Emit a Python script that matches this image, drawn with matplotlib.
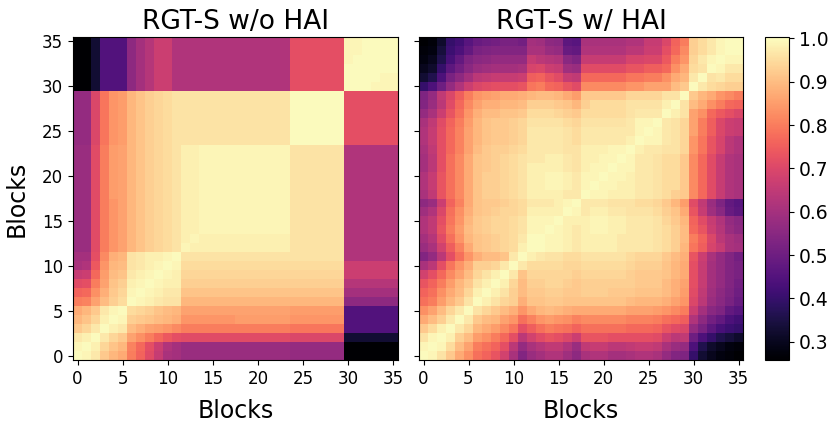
import numpy as np
import matplotlib
matplotlib.use("Agg")
import matplotlib.pyplot as plt

# ---------------- data (similarity, in percent; lower triangle of symmetric matrices) ----------------
titles = ["RGT-S w/o HAI", "RGT-S w/ HAI"]
tick_positions = [0, 5, 10, 15, 20, 25, 30, 35]
cbar_ticks = [0.3, 0.4, 0.5, 0.6, 0.7, 0.8, 0.9, 1.0]

A_lower = [
    [100],
    [99, 100],
    [97, 98, 100],
    [92, 94, 97, 100],
    [89, 91, 94, 98, 100],
    [87, 89, 92, 97, 99, 100],
    [80, 81, 86, 90, 93, 95, 100],
    [76, 77, 83, 88, 92, 94, 99, 100],
    [71, 72, 80, 86, 91, 93, 98, 99, 100],
    [66, 67, 77, 85, 90, 91, 97, 98, 99, 100],
    [61, 62, 74, 84, 89, 90, 96, 97, 98, 99, 100],
    [60, 60, 72, 82, 88, 89, 96, 97, 98, 98, 99, 100],
    [58, 58, 71, 80, 84, 86, 89, 91, 93, 94, 95, 96, 99],
    [58, 58, 71, 80, 84, 86, 89, 91, 93, 94, 95, 96, 98, 99],
    [58, 58, 71, 80, 84, 86, 89, 91, 93, 94, 95, 96, 98, 98, 99],
    [58, 58, 71, 80, 84, 86, 89, 91, 93, 94, 95, 96, 98, 98, 99, 99],
    [58, 58, 71, 80, 84, 86, 89, 91, 93, 94, 95, 96, 98, 98, 99, 99, 99],
    [58, 58, 71, 80, 84, 86, 89, 91, 93, 94, 95, 96, 98, 98, 99, 99, 99, 99],
    [58, 58, 71, 80, 85, 86, 89, 91, 93, 94, 95, 96, 98, 98, 99, 99, 99, 99, 99],
    [58, 58, 71, 80, 85, 86, 89, 91, 93, 94, 95, 96, 98, 98, 99, 99, 99, 99, 99, 99],
    [58, 58, 71, 80, 85, 86, 89, 91, 93, 94, 95, 96, 98, 98, 99, 99, 99, 99, 99, 99, 99],
    [58, 58, 71, 80, 85, 86, 89, 91, 93, 94, 95, 96, 98, 98, 99, 99, 99, 99, 99, 99, 99, 99],
    [58, 58, 71, 80, 85, 86, 89, 91, 93, 94, 95, 96, 98, 98, 99, 99, 99, 99, 99, 99, 99, 99, 99],
    [58, 58, 71, 80, 85, 86, 89, 91, 93, 94, 95, 96, 98, 98, 99, 99, 99, 99, 99, 99, 99, 99, 99, 99],
    [57, 57, 70, 79, 84, 85, 89, 91, 93, 94, 95, 96, 96, 96, 96, 96, 96, 96, 96, 96, 96, 96, 96, 96, 100],
    [57, 57, 70, 79, 84, 85, 89, 91, 93, 94, 95, 96, 96, 96, 96, 96, 96, 96, 96, 96, 96, 96, 96, 96, 100, 100],
    [57, 57, 70, 79, 84, 85, 89, 91, 93, 94, 95, 96, 96, 96, 96, 96, 96, 96, 96, 96, 96, 96, 96, 96, 100, 100, 100],
    [57, 57, 70, 79, 84, 85, 89, 91, 93, 94, 95, 96, 96, 96, 96, 96, 96, 96, 96, 96, 96, 96, 96, 96, 100, 100, 100, 100],
    [57, 57, 70, 79, 84, 85, 89, 91, 93, 94, 95, 96, 96, 96, 96, 96, 96, 96, 96, 96, 96, 96, 96, 96, 100, 100, 100, 100, 100],
    [57, 57, 70, 79, 84, 85, 89, 91, 93, 94, 95, 96, 96, 96, 96, 96, 96, 96, 96, 96, 96, 96, 96, 96, 100, 100, 100, 100, 100, 100],
    [26, 26, 33, 45, 45, 45, 56, 60, 63, 67, 67, 62, 62, 62, 62, 62, 62, 62, 62, 62, 62, 62, 62, 62, 72, 72, 72, 72, 72, 72, 100],
    [26, 26, 33, 45, 45, 45, 56, 60, 63, 67, 67, 62, 62, 62, 62, 62, 62, 62, 62, 62, 62, 62, 62, 62, 72, 72, 72, 72, 72, 72, 100, 100],
    [26, 26, 33, 45, 45, 45, 56, 60, 63, 67, 67, 62, 62, 62, 62, 62, 62, 62, 62, 62, 62, 62, 62, 62, 72, 72, 72, 72, 72, 72, 100, 100, 100],
    [26, 26, 33, 45, 45, 45, 56, 60, 63, 67, 67, 62, 62, 62, 62, 62, 62, 62, 62, 62, 62, 62, 62, 62, 72, 72, 72, 72, 72, 72, 99, 100, 100, 100],
    [26, 26, 33, 45, 45, 45, 56, 60, 63, 67, 67, 62, 62, 62, 62, 62, 62, 62, 62, 62, 62, 62, 62, 62, 72, 72, 72, 72, 72, 72, 99, 99, 100, 100, 100],
    [26, 26, 33, 45, 45, 45, 56, 60, 63, 67, 67, 62, 62, 62, 62, 62, 62, 62, 62, 62, 62, 62, 62, 62, 72, 72, 72, 72, 72, 72, 99, 99, 100, 100, 100, 100],
]

B_lower = [
    [100],
    [99, 100],
    [96, 99, 100],
    [92, 95, 98, 100],
    [87, 90, 93, 97, 100],
    [83, 86, 90, 94, 97, 100],
    [78, 80, 85, 89, 92, 96, 100],
    [76, 78, 83, 87, 90, 94, 98, 100],
    [73, 76, 80, 85, 89, 92, 96, 98, 100],
    [68, 72, 77, 82, 86, 90, 94, 96, 98, 100],
    [61, 64, 72, 79, 84, 88, 93, 93, 94, 97, 100],
    [54, 57, 64, 72, 78, 84, 88, 90, 90, 91, 97, 100],
    [58, 61, 68, 75, 81, 87, 91, 92, 93, 94, 95, 98, 100],
    [60, 63, 71, 78, 84, 89, 91, 92, 93, 94, 95, 97, 100, 100],
    [62, 65, 73, 80, 85, 90, 92, 93, 94, 94, 95, 96, 99, 99, 100],
    [62, 65, 72, 79, 84, 89, 92, 93, 94, 94, 95, 96, 99, 99, 99, 100],
    [59, 62, 70, 78, 83, 88, 91, 92, 93, 94, 94, 95, 98, 98, 98, 98, 100],
    [56, 58, 67, 76, 81, 87, 91, 92, 92, 93, 94, 95, 97, 97, 97, 98, 99, 100],
    [61, 65, 73, 78, 82, 87, 91, 93, 93, 94, 95, 96, 98, 98, 98, 98, 97, 97, 100],
    [62, 66, 73, 78, 82, 87, 91, 93, 93, 94, 95, 96, 98, 98, 99, 99, 98, 97, 99, 100],
    [62, 66, 73, 78, 82, 87, 91, 93, 93, 94, 95, 96, 98, 98, 99, 99, 98, 97, 99, 99, 100],
    [60, 64, 72, 78, 82, 87, 91, 92, 93, 94, 95, 96, 98, 98, 98, 98, 97, 96, 98, 99, 99, 100],
    [60, 64, 72, 78, 82, 87, 91, 92, 93, 94, 95, 96, 97, 97, 98, 98, 97, 96, 98, 98, 99, 99, 100],
    [61, 65, 72, 77, 81, 86, 90, 92, 93, 93, 94, 95, 97, 97, 97, 97, 96, 96, 98, 98, 98, 99, 99, 100],
    [62, 66, 72, 77, 81, 86, 89, 91, 92, 92, 93, 94, 97, 97, 97, 97, 96, 95, 97, 97, 97, 97, 97, 98, 100],
    [62, 66, 72, 77, 81, 86, 89, 91, 92, 92, 93, 94, 97, 97, 97, 97, 96, 95, 97, 97, 97, 97, 97, 97, 99, 100],
    [61, 65, 71, 76, 80, 85, 89, 91, 92, 92, 93, 94, 96, 96, 96, 96, 95, 94, 96, 96, 96, 96, 96, 97, 99, 99, 100],
    [57, 61, 67, 73, 78, 84, 88, 90, 90, 91, 91, 92, 95, 95, 95, 94, 93, 92, 95, 95, 95, 95, 95, 96, 97, 97, 97, 100],
    [54, 58, 64, 71, 77, 82, 86, 88, 88, 89, 89, 90, 93, 93, 93, 92, 91, 89, 93, 95, 95, 95, 95, 96, 96, 96, 96, 98, 100],
    [53, 57, 65, 70, 75, 80, 84, 85, 86, 87, 87, 88, 89, 90, 90, 89, 87, 85, 92, 92, 92, 92, 92, 94, 94, 94, 94, 96, 96, 100],
    [40, 44, 50, 57, 62, 67, 70, 71, 72, 72, 72, 73, 79, 80, 77, 76, 73, 71, 82, 82, 82, 82, 82, 84, 84, 86, 86, 86, 90, 92, 100],
    [33, 36, 44, 52, 56, 60, 64, 65, 66, 66, 66, 67, 75, 76, 73, 71, 66, 65, 77, 77, 77, 77, 77, 79, 79, 80, 80, 83, 87, 89, 97, 100],
    [30, 32, 40, 47, 51, 55, 58, 59, 60, 60, 60, 61, 69, 70, 67, 66, 59, 58, 71, 71, 71, 71, 71, 73, 73, 75, 75, 77, 83, 87, 95, 96, 100],
    [28, 30, 36, 43, 48, 53, 55, 56, 57, 57, 57, 57, 66, 64, 63, 62, 55, 53, 66, 66, 66, 66, 66, 69, 69, 70, 70, 74, 80, 84, 94, 97, 99, 100],
    [27, 28, 34, 41, 44, 48, 52, 53, 54, 54, 54, 54, 61, 61, 58, 57, 49, 48, 62, 62, 62, 62, 62, 64, 64, 67, 67, 72, 77, 82, 93, 95, 97, 99, 100],
    [26, 27, 32, 40, 42, 46, 49, 50, 51, 52, 52, 51, 60, 59, 56, 55, 47, 46, 61, 61, 61, 61, 61, 62, 62, 66, 66, 70, 76, 80, 93, 95, 97, 99, 100, 100],
]


def symmetric_from_lower(lower):
    n = len(lower)
    m = np.zeros((n, n))
    for i, row in enumerate(lower):
        m[i, :len(row)] = row
    m = m + m.T - np.diag(np.diag(m))
    return m / 100.0


matrices = [symmetric_from_lower(A_lower), symmetric_from_lower(B_lower)]

# ---------------- figure ----------------
W, H = 831, 426
fig = plt.figure(figsize=(W / 100, H / 100), dpi=100)
ax1 = fig.add_axes([73 / W, 66 / H, 325 / W, 323 / H])
ax2 = fig.add_axes([419 / W, 66 / H, 324 / W, 323 / H])
cax = fig.add_axes([765 / W, 66 / H, 24 / W, 323 / H])

vmin, vmax = 0.258, 1.003
im = None
for ax, mat, title in zip([ax1, ax2], matrices, titles):
    im = ax.imshow(mat, cmap="magma", origin="lower", vmin=vmin, vmax=vmax,
                   interpolation="nearest", aspect="auto")
    ax.set_title(title, fontsize=19)
    ax.set_xticks(tick_positions)
    ax.set_yticks(tick_positions)
    ax.set_xticklabels([str(t) for t in tick_positions])
    ax.tick_params(labelsize=12)
    ax.set_xlabel("Blocks", fontsize=17, labelpad=8)

ax1.set_yticklabels([str(t) for t in tick_positions])
ax1.set_ylabel("Blocks", fontsize=17, labelpad=10)
ax2.set_yticklabels([])

cb = fig.colorbar(im, cax=cax, ticks=cbar_ticks)
cb.ax.tick_params(labelsize=13.5)
cb.ax.set_yticklabels([f"{t:.1f}" for t in cbar_ticks])

fig.savefig("out.png", dpi=100)
